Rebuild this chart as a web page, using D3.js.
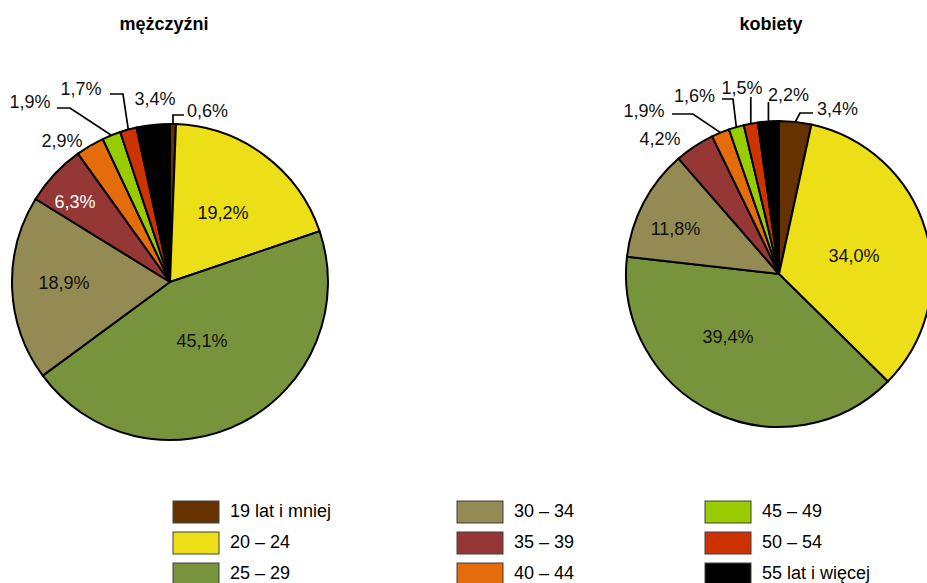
<!DOCTYPE html>
<html>
<head>
<meta charset="utf-8">
<script src="https://cdn.jsdelivr.net/npm/d3@7"></script>
<style>
  body { margin: 0; background: #fff; }
  svg { display: block; font-family: "Liberation Sans", Arial, sans-serif; }
  .pie-title { font-size: 18px; font-weight: bold; fill: #000; }
  .pie-label { font-size: 18px; fill: #111; }
  .legend-label { font-size: 18px; fill: #000; }
</style>
</head>
<body>
<svg id="chart" width="927" height="583"></svg>
<script>
const categories = [
  "19 lat i mniej", "20 – 24", "25 – 29",
  "30 – 34", "35 – 39", "40 – 44",
  "45 – 49", "50 – 54", "55 lat i więcej",
];
const menValues = [0.6, 19.2, 45.1, 18.9, 6.3, 2.9, 1.9, 1.7, 3.4];
const womenValues = [3.4, 34.0, 39.4, 11.8, 4.2, 1.9, 1.6, 1.5, 2.2];

const palette = [
  "#663300", "#ECDE17", "#77933C",
  "#948A54", "#953735", "#E46C0A",
  "#99CC00", "#CC3300", "#000000",
];

// label placement (relative to pie centre), leaders start on the rim
const menLabelLayout = [
  { dx: 17, dy: -165, anchor: "start", leader: [[null, -167], [14, -167]] },
  { dx: 53, dy: -63 },
  { dx: 32, dy: 65 },
  { dx: -106, dy: 7 },
  { dx: -95, dy: -74, fill: "#fff" },
  { dx: -108, dy: -135 },
  { dx: -140, dy: -174, leader: [[-100, -174], [-113, -174]] },
  { dx: -89, dy: -187, leader: [[-47, -188], [-60, -188]] },
  { dx: -15, dy: -177 },
];
const womenLabelLayout = [
  { dx: 38, dy: -159, anchor: "start", leader: [[21, -161], [34, -161]] },
  { dx: 75, dy: -12 },
  { dx: -51, dy: 69 },
  { dx: -103.5, dy: -39 },
  { dx: -119, dy: -129 },
  { dx: -135, dy: -157, leader: [[-86, -160], [-107, -160]] },
  { dx: -84.5, dy: -172, leader: [[-46, -175], [-57, -175]] },
  { dx: -37, dy: -180, leader: [[null, -177]] },
  { dx: -11, dy: -173, anchor: "start", leader: [[null, -172]] },
];

const svg = d3.select("#chart");
const color = d3.scaleOrdinal(categories, palette);
const fmt = (v) => d3.format(".1f")(v).replace(".", ",") + "%";

const pies = [
  { title: "mężczyźni", values: menValues, cx: 170, cy: 282, r: 158, titleX: 164, labels: menLabelLayout },
  { title: "kobiety", values: womenValues, cx: 779, cy: 274, r: 153, titleX: 771, labels: womenLabelLayout },
];

pies.forEach((p) => {
  svg
    .append("text")
    .attr("class", "pie-title")
    .attr("x", p.titleX)
    .attr("y", 30)
    .attr("text-anchor", "middle")
    .text(p.title);

  const g = svg.append("g").attr("transform", `translate(${p.cx},${p.cy})`);

  const arcs = d3
    .pie()
    .sort(null)
    .value((d) => d.value)(categories.map((c, i) => ({ category: c, value: p.values[i] })));

  const arc = d3.arc().innerRadius(0).outerRadius(p.r);
  const rim = d3.arc().innerRadius(p.r).outerRadius(p.r);

  g.selectAll("path.slice")
    .data(arcs)
    .join("path")
    .attr("class", "slice")
    .attr("d", arc)
    .attr("fill", (d) => color(d.data.category))
    .attr("stroke", "#000")
    .attr("stroke-width", 2)
    .attr("stroke-linejoin", "round");

  arcs.forEach((d, i) => {
    const L = p.labels[i];
    if (L.leader) {
      const pts = [rim.centroid(d)];
      L.leader.forEach(([x, y]) => pts.push([x ?? pts[pts.length - 1][0], y]));
      g.append("path")
        .attr("d", d3.line()(pts))
        .attr("fill", "none")
        .attr("stroke", "#000")
        .attr("stroke-width", 1.7);
    }
    g.append("text")
      .attr("class", "pie-label")
      .attr("x", L.dx)
      .attr("y", L.dy)
      .attr("text-anchor", L.anchor || "middle")
      .style("fill", L.fill || null)
      .text(fmt(d.data.value));
  });
});

// legend, column by column
const legendCols = [173, 457, 705];
const legendRows = [501, 532, 563];
const legend = svg
  .append("g")
  .selectAll("g")
  .data(categories)
  .join("g")
  .attr("transform", (d, i) => `translate(${legendCols[Math.floor(i / 3)]},${legendRows[i % 3]})`);

legend
  .append("rect")
  .attr("width", 46)
  .attr("height", 22)
  .attr("fill", (d) => color(d))
  .attr("stroke", "#404040")
  .attr("stroke-width", 1);

legend
  .append("text")
  .attr("class", "legend-label")
  .attr("x", 57)
  .attr("y", 16)
  .text((d) => d);
</script>
</body>
</html>
